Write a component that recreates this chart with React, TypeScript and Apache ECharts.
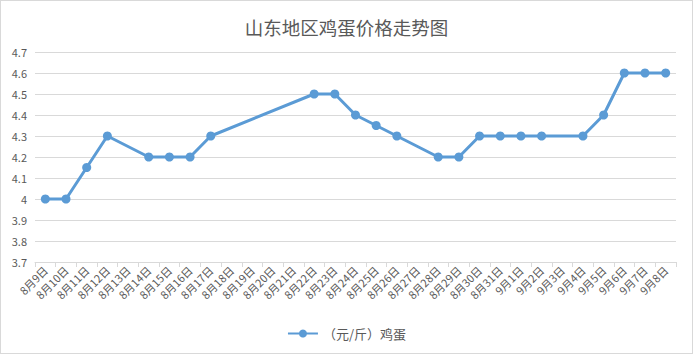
import React, { useEffect, useRef } from "react";
import * as echarts from "echarts";

const categories = [
  "8月9日", "8月10日", "8月11日", "8月12日", "8月13日", "8月14日", "8月15日", "8月16日",
  "8月17日", "8月18日", "8月19日", "8月20日", "8月21日", "8月22日", "8月23日", "8月24日",
  "8月25日", "8月26日", "8月27日", "8月28日", "8月29日", "8月30日", "8月31日",
  "9月1日", "9月2日", "9月3日", "9月4日", "9月5日", "9月6日", "9月7日", "9月8日",
];

const eggPrices: (number | null)[] = [
  4.0, 4.0, 4.15, 4.3, null, 4.2, 4.2, 4.2,
  4.3, null, null, null, null, 4.5, 4.5, 4.4,
  4.35, 4.3, null, 4.2, 4.2, 4.3, 4.3,
  4.3, 4.3, null, 4.3, 4.4, 4.6, 4.6, 4.6,
];

const seriesName = "（元/斤）鸡蛋";
const titleText = "山东地区鸡蛋价格走势图";

export default function App() {
  const ref = useRef<HTMLDivElement>(null);
  useEffect(() => {
    if (!ref.current) return;
    const chart = echarts.init(ref.current, null, { renderer: "svg" });
    const font = "'Noto Sans CJK SC', 'Microsoft YaHei', sans-serif";
    chart.setOption({
      animation: false,
      backgroundColor: "#ffffff",
      textStyle: { fontFamily: font },
      title: {
        text: titleText,
        left: "center",
        top: 12,
        textStyle: { fontSize: 18.5, fontWeight: "normal", color: "#595959", fontFamily: font },
      },
      legend: {
        bottom: 8,
        left: "center",
        itemWidth: 30,
        itemHeight: 10,
        textStyle: { fontSize: 13, color: "#595959", fontFamily: font },
        data: [seriesName],
      },
      grid: { left: 34, right: 16, top: 51, bottom: 91, containLabel: false },
      xAxis: {
        type: "category",
        data: categories,
        boundaryGap: true,
        axisLine: { lineStyle: { color: "#d9d9d9" } },
        axisTick: { show: true, alignWithLabel: false, lineStyle: { color: "#d9d9d9" } },
        axisLabel: { rotate: 45, interval: 0, fontSize: 11, color: "#595959", margin: 6, fontFamily: font },
      },
      yAxis: {
        type: "value",
        min: 3.7,
        max: 4.7,
        interval: 0.1,
        axisLine: { show: false },
        axisTick: { show: false },
        axisLabel: { fontSize: 11, color: "#595959", margin: 8, fontFamily: font },
        splitLine: { lineStyle: { color: "#d9d9d9" } },
      },
      series: [
        {
          name: seriesName,
          type: "line",
          data: eggPrices,
          connectNulls: true,
          symbol: "circle",
          symbolSize: 9,
          itemStyle: { color: "#5b9bd5" },
          lineStyle: { color: "#5b9bd5", width: 3 },
        },
      ],
    });
    return () => chart.dispose();
  }, []);
  return (
    <div
      ref={ref}
      style={{
        position: "fixed",
        left: 0,
        top: 0,
        width: 693,
        height: 354,
        boxSizing: "border-box",
        border: "1px solid #d9d9d9",
      }}
    />
  );
}
